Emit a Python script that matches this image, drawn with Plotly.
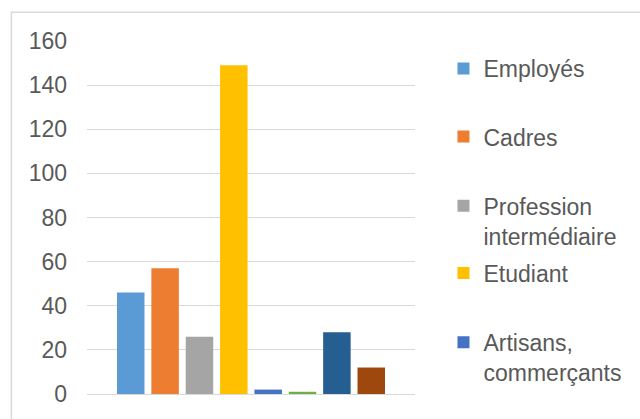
import plotly.graph_objects as go

# Effectifs par catégorie socio-professionnelle
categories = ["Employés", "Cadres", "Profession<br>intermédiaire", "Etudiant",
              "Artisans,<br>commerçants", "Agriculteurs", "Retraités", "Sans activité"]
effectifs = [46, 57, 26, 149, 2, 1, 28, 12]
couleurs = ["#5B9BD5", "#ED7D31", "#A5A5A5", "#FFC000",
            "#4472C4", "#70AD47", "#255E91", "#9E480E"]
# nombre d'entrées visibles dans la légende
n_legende = 5
y_ticks = [0, 20, 40, 60, 80, 100, 120, 140, 160]

W, H = 640, 419
ML, MR, MT, MB = 87, 219, 41, 21
PW, PH = W - ML - MR, H - MT - MB

def px_to_paper_y(py):
    return (H - MB - py) / PH

def px_to_paper_x(px):
    return (px - ML) / PW

# centres verticaux (pixels) de la première ligne de chaque entrée de légende
legend_centres = [68, 137, 207, 275, 345]

fig = go.Figure()
for i, (nom, val, col) in enumerate(zip(categories, effectifs, couleurs)):
    kw = {}
    if i < n_legende:
        kw["legend"] = "legend" if i == 0 else f"legend{i + 1}"
    fig.add_trace(go.Bar(
        x=[""], y=[val], name=nom,
        marker=dict(color=col, line=dict(width=0)),
        showlegend=i < n_legende,
        **kw,
    ))

font_txt = dict(family="Liberation Sans, Arial, sans-serif", size=23, color="#595959")

legends = {}
for i in range(n_legende):
    key = "legend" if i == 0 else f"legend{i + 1}"
    legends[key] = dict(
        x=px_to_paper_x(450), xanchor="left",
        y=px_to_paper_y(legend_centres[i] - 21), yanchor="top",
        font=font_txt, bgcolor="rgba(0,0,0,0)", borderwidth=0,
        itemwidth=30, valign="top", tracegroupgap=0,
    )

fig.update_layout(
    width=W, height=H,
    margin=dict(l=ML, r=MR, t=MT, b=MB, pad=0),
    paper_bgcolor="white", plot_bgcolor="white",
    barmode="group", bargap=0.162, bargroupgap=0.2,
    font=font_txt,
    xaxis=dict(showticklabels=False, showgrid=False, zeroline=False,
               showline=False, ticks=""),
    yaxis=dict(range=[0, 160], tickvals=y_ticks, showgrid=True,
               gridcolor="#D9D9D9", gridwidth=1, zeroline=True,
               zerolinecolor="#D9D9D9", zerolinewidth=1, showline=False,
               ticks="", ticklabelstandoff=19, tickfont=font_txt),
    shapes=[dict(
        type="rect", xref="paper", yref="paper",
        x0=px_to_paper_x(10), x1=px_to_paper_x(W + 20),
        y0=px_to_paper_y(H + 20), y1=px_to_paper_y(12),
        line=dict(color="#D9D9D9", width=1.5), fillcolor="rgba(0,0,0,0)",
        layer="below",
    )],
    **legends,
)

fig.write_html("out.html")
